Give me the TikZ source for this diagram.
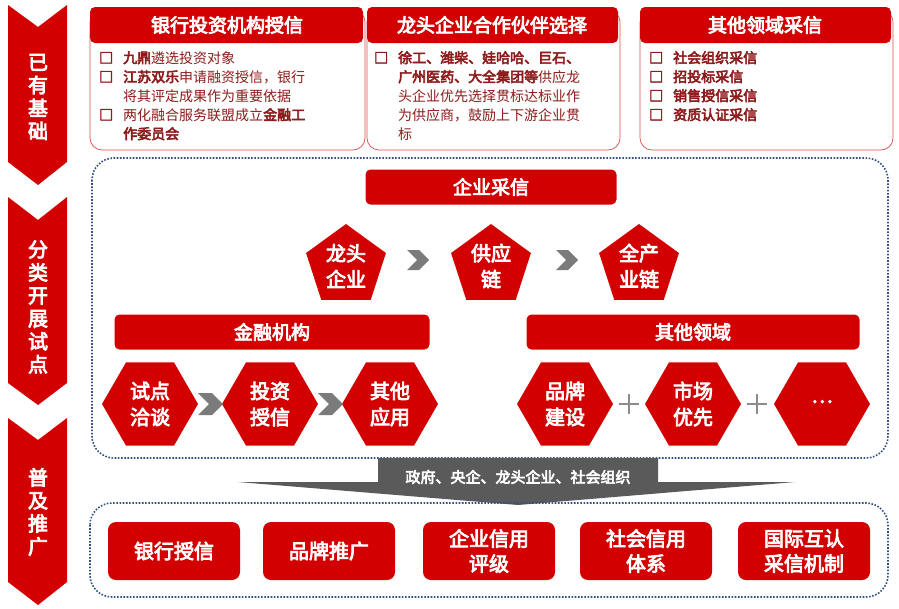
\documentclass[tikz,border=0pt]{standalone}
\usepackage{fontspec}
\newfontfamily\cjk{Noto Sans CJK SC}[AutoFakeBold=4]
\usetikzlibrary{shapes.geometric}
\definecolor{rd}{HTML}{D20000}
\definecolor{dr}{HTML}{8E1C1C}
\definecolor{bl}{HTML}{2E4F80}
\definecolor{gr}{HTML}{5A5A5A}
\begin{document}
\begin{tikzpicture}[x=1pt,y=-1pt,font=\cjk,
  redbox/.style={fill=rd,rounded corners=5pt,text=white,font=\cjk\bfseries\fontsize{19}{22}\selectfont},
  card/.style={draw=rd!70,fill=white,rounded corners=12pt,line width=0.7pt},
  body/.style={text=dr,anchor=north west,align=left,text width=260pt,font=\cjk\fontsize{14}{19}\selectfont,inner sep=0pt},
  pent/.style={regular polygon,regular polygon sides=5,fill=rd,minimum size=84pt,inner sep=0pt,text=white,align=center,font=\cjk\bfseries\fontsize{20}{26}\selectfont},
  hex/.style={regular polygon,regular polygon sides=6,fill=rd,minimum size=96pt,inner sep=0pt,text=white,align=center,font=\cjk\bfseries\fontsize{20}{26}\selectfont},
  dotbox/.style={draw=bl,line width=1.6pt,dash pattern=on 1.6pt off 1.6pt,rounded corners=22pt},
  side/.style={text=white,align=center,font=\cjk\bfseries\fontsize{20}{23}\selectfont}]
\useasboundingbox (0,0) rectangle (899,608);
% left chevrons
\fill[rd] (8,5) -- (38,27) -- (67,5) -- (67,162) -- (38,185) -- (8,162) -- cycle;
\node[side] (s1) at (38,97) {已\\有\\基\\础};
\fill[rd] (8,197) -- (38,220) -- (67,197) -- (67,383) -- (38,405) -- (8,383) -- cycle;
\node[side] (s2) at (38,307) {分\\类\\开\\展\\试\\点};
\fill[rd] (8,418) -- (38,440) -- (67,418) -- (67,582) -- (38,605) -- (8,582) -- cycle;
\node[side] (s3) at (38,512) {普\\及\\推\\广};
% top cards
\foreach \a/\b in {90/365,367/620,640/893}{
  \draw[card] (\a,10) rectangle (\b,150);
  \fill[rd,rounded corners=5pt] (\a,7) rectangle (\b-2,43);
}
\node[redbox] (h1) at (227,25) {银行投资机构授信};
\node[redbox] (h2) at (492,25) {龙头企业合作伙伴选择};
\node[redbox] (h3) at (765,25) {其他领域采信};
\node[body] (b1) at (99,51) {\textbf{□}\hspace{10pt}\textbf{九鼎}遴选投资对象\\
\textbf{□}\hspace{10pt}\textbf{江苏双乐}申请融资授信，银行\\\hspace{24pt}将其评定成果作为重要依据\\
\textbf{□}\hspace{10pt}两化融合服务联盟成立\textbf{金融工}\\\hspace{24pt}\textbf{作委员会}};
\node[body] (b2) at (374,51) {\textbf{□}\hspace{10pt}\textbf{徐工、潍柴、娃哈哈、巨石、}\\\hspace{24pt}\textbf{广州医药、大全集团等}供应龙\\\hspace{24pt}头企业优先选择贯标达标业作\\\hspace{24pt}为供应商，鼓励上下游企业贯\\\hspace{24pt}标};
\node[body] (b3) at (649,51) {\textbf{□}\hspace{10pt}\textbf{社会组织采信}\\\textbf{□}\hspace{10pt}\textbf{招投标采信}\\\textbf{□}\hspace{10pt}\textbf{销售授信采信}\\\textbf{□}\hspace{10pt}\textbf{资质认证采信}};
% middle dotted box
\draw[dotbox] (92,158) rectangle (888,458);
\node[redbox,minimum width=251pt,minimum height=35pt] (qy) at (491,187) {企业采信};
\node[pent] (p1) at (346,266) {龙头\\企业};
\node[pent] (p2) at (491,266) {供应\\链};
\node[pent] (p3) at (639,266) {全产\\业链};
\foreach \x in {417,566}{\fill[gr!80] (\x-10,250) -- (\x+2,250) -- (\x+12,260) -- (\x+2,270) -- (\x-10,270) -- (\x,260) -- cycle;}
\node[redbox,minimum width=315pt,minimum height=35pt] (jr) at (272,332) {金融机构};
\node[redbox,minimum width=333pt,minimum height=35pt] (qt) at (693,332) {其他领域};
\node[hex] (x1) at (150,404) {试点\\洽谈};
\node[hex] (x2) at (270,404) {投资\\授信};
\node[hex] (x3) at (390,404) {其他\\应用};
\node[hex] (x4) at (565,404) {品牌\\建设};
\node[hex] (x5) at (693,404) {市场\\优先};
\node[hex] (x6) at (822,404) {\raisebox{5pt}{…}};
\foreach \x in {210,330}{\fill[gr!80] (\x-12,393) -- (\x+2,393) -- (\x+13,404) -- (\x+2,415) -- (\x-12,415) -- (\x-1,404) -- cycle;}
\foreach \x in {629,757}{\draw[gr!70,line width=2.5pt] (\x-10,404) -- (\x+10,404) (\x,394) -- (\x,414);}
% grey arrow
\fill[gr] (378,458) -- (658,458) -- (658,482) -- (795,482) -- (518,505) -- (238,482) -- (378,482) -- cycle;
\node[text=white,font=\cjk\bfseries\fontsize{15}{17}\selectfont] (zf) at (518,477) {政府、央企、龙头企业、社会组织};
% bottom
\draw[dotbox] (90,503) rectangle (888,597);
\foreach \a/\t/\n in {108/银行授信/c1,263/品牌推广/c2,423/企业信用\\评级/c3,580/社会信用\\体系/c4,738/国际互认\\采信机制/c5}{
  \node[redbox,rounded corners=8pt,minimum width=132pt,minimum height=58pt,align=center,font=\cjk\bfseries\fontsize{20}{25}\selectfont] (\n) at (\a+66,551) {\t};
}
\end{tikzpicture}
\end{document}
